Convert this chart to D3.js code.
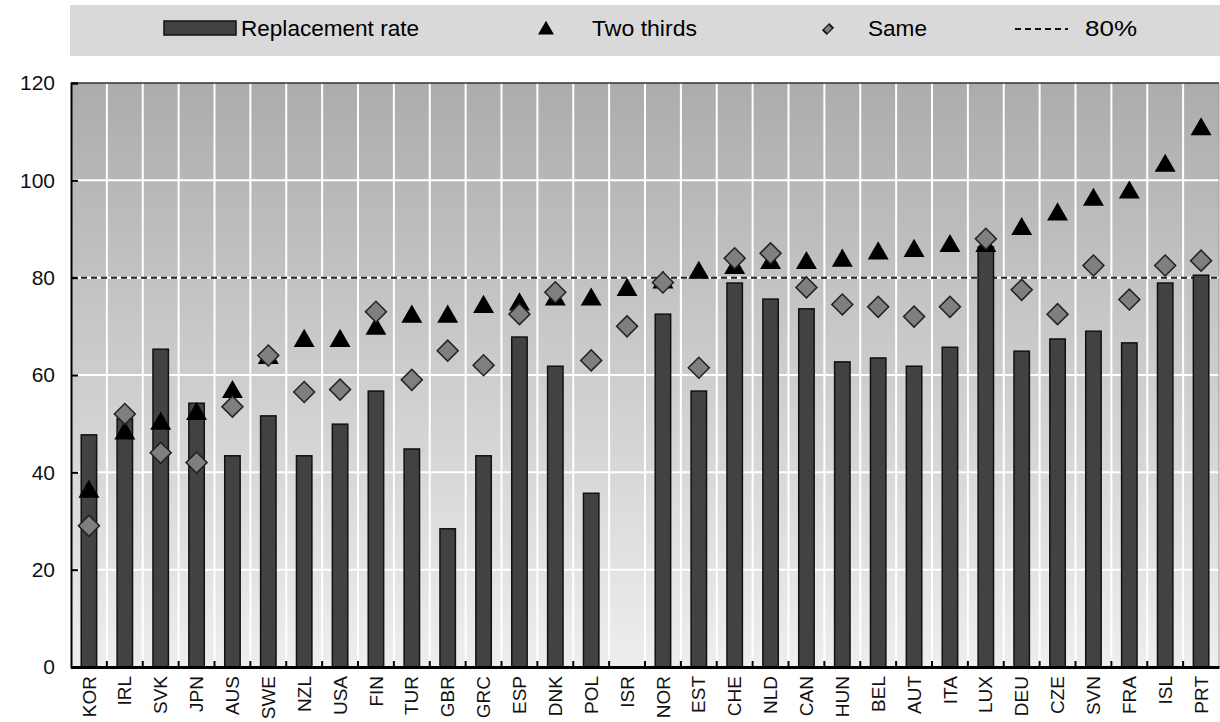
<!DOCTYPE html>
<html>
<head>
<meta charset="utf-8">
<script src="https://cdn.jsdelivr.net/npm/d3@7"></script>
<style>
  body { margin: 0; background: #fff; }
  text { font-family: "Liberation Sans", "DejaVu Sans", sans-serif; }
</style>
</head>
<body>
<script>
// data
var countries = ["KOR","IRL","SVK","JPN","AUS","SWE","NZL","USA","FIN","TUR","GBR","GRC","ESP","DNK","POL","ISR",
                 "NOR","EST","CHE","NLD","CAN","HUN","BEL","AUT","ITA","LUX","DEU","CZE","SVN","FRA","ISL","PRT"];
var replacementRate = [47.7,51,65.3,54.2,43.4,51.6,43.4,49.9,56.7,44.8,28.4,43.4,67.8,61.8,35.7,null,
                       72.5,56.7,78.9,75.6,73.6,62.7,63.5,61.8,65.7,86.3,64.9,67.4,69.0,66.6,78.9,80.5];
var twoThirds = [36,48,50,52,56.5,63.5,67,67,69.5,72,72,74,74.5,75.5,75.5,77.5,
                 79,81,82,83,83,83.5,85,85.5,86.5,86.5,90,93,96,97.5,103,110.5];
var same = [29,52,44,42,53.5,64,56.5,57,73,59,65,62,72.5,77,63,70,
            79,61.5,84,85,78,74.5,74,72,74,88,77.5,72.5,82.5,75.5,82.5,83.5];
var yTicks = [0,20,40,60,80,100,120];
var refLine = 80;

var W = 1220, H = 722;
var margin = {top: 83, right: 1, bottom: 55, left: 71};
var width = W - margin.left - margin.right,
    height = H - margin.top - margin.bottom;

var svg = d3.select("body").append("svg")
    .attr("width", W)
    .attr("height", H);

// background gradient
var defs = svg.append("defs");
var grad = defs.append("linearGradient")
    .attr("id", "bg")
    .attr("x1", 0).attr("y1", 0).attr("x2", 0).attr("y2", 1);
grad.append("stop").attr("offset", "0%").attr("stop-color", "#acacac");
grad.append("stop").attr("offset", "100%").attr("stop-color", "#eeeeee");

// legend box
svg.append("rect")
    .attr("x", 70).attr("y", 5)
    .attr("width", 1150).attr("height", 51)
    .attr("fill", "#d9d9d9");

var g = svg.append("g")
    .attr("transform", "translate(" + margin.left + "," + margin.top + ")");

var x = d3.scaleBand()
    .domain(countries)
    .range([0, width])
    .paddingInner(0).paddingOuter(0);

var y = d3.scaleLinear()
    .domain([0, 120])
    .range([height, 0]);

g.append("rect")
    .attr("width", width).attr("height", height)
    .attr("fill", "url(#bg)");

// horizontal grid
g.selectAll(".hgrid")
    .data(yTicks.filter(function(d) { return d > 0 && d < 120; }))
  .enter().append("line")
    .attr("x1", 0).attr("x2", width)
    .attr("y1", function(d) { return y(d); })
    .attr("y2", function(d) { return y(d); })
    .attr("stroke", "#fff").attr("stroke-width", 2);

// vertical grid at band boundaries
g.selectAll(".vgrid")
    .data(countries.slice(1))
  .enter().append("line")
    .attr("x1", function(d) { return x(d); })
    .attr("x2", function(d) { return x(d); })
    .attr("y1", 0).attr("y2", height)
    .attr("stroke", "#fff").attr("stroke-width", 2);

// 80% line
g.append("line")
    .attr("x1", 0).attr("x2", width)
    .attr("y1", y(refLine)).attr("y2", y(refLine))
    .attr("stroke", "#222").attr("stroke-width", 2)
    .attr("stroke-dasharray", "6,4");

// bars
var barW = x.bandwidth() * 0.43;
g.selectAll(".bar")
    .data(countries.map(function(c, i) { return {c: c, v: replacementRate[i]}; })
      .filter(function(d) { return d.v != null; }))
  .enter().append("rect")
    .attr("x", function(d) { return x(d.c) + (x.bandwidth() - barW) / 2; })
    .attr("y", function(d) { return y(d.v); })
    .attr("width", barW)
    .attr("height", function(d) { return height - y(d.v); })
    .attr("fill", "#424242")
    .attr("stroke", "#111").attr("stroke-width", 1.5);

// triangles
var tri = d3.symbol().type(d3.symbolTriangle).size(190);
g.selectAll(".tri")
    .data(countries.map(function(c, i) { return {c: c, v: twoThirds[i]}; }))
  .enter().append("path")
    .attr("d", tri)
    .attr("transform", function(d) {
      return "translate(" + (x(d.c) + x.bandwidth() / 2) + "," + y(d.v) + ")";
    })
    .attr("fill", "#000");

// diamonds
var dia = d3.symbol().type(d3.symbolSquare).size(220);
g.selectAll(".dia")
    .data(countries.map(function(c, i) { return {c: c, v: same[i]}; }))
  .enter().append("path")
    .attr("d", dia)
    .attr("transform", function(d) {
      return "translate(" + (x(d.c) + x.bandwidth() / 2) + "," + y(d.v) + ") rotate(45)";
    })
    .attr("fill", "#7f7f7f")
    .attr("stroke", "#222").attr("stroke-width", 1.5);

// frame
g.append("line").attr("x1", 0).attr("x2", width).attr("y1", 0).attr("y2", 0)
    .attr("stroke", "#333").attr("stroke-width", 1.5);
g.append("line").attr("x1", width).attr("x2", width).attr("y1", 0).attr("y2", height)
    .attr("stroke", "#999").attr("stroke-width", 1);

// y axis
var yAxis = g.append("g")
    .call(d3.axisLeft(y).tickValues(yTicks).tickSize(-7).tickPadding(16));
yAxis.select(".domain").attr("stroke", "#000").attr("stroke-width", 2);
yAxis.selectAll(".tick line").attr("stroke", "#000").attr("stroke-width", 2);
yAxis.selectAll(".tick text")
    .attr("font-size", 21).attr("fill", "#111")
    .attr("font-family", "Liberation Sans, sans-serif");

// x axis
var xAxis = g.append("g")
    .attr("transform", "translate(0," + height + ")")
    .call(d3.axisBottom(x).tickSize(0).tickPadding(0));
xAxis.select(".domain").attr("stroke", "#000").attr("stroke-width", 3);
xAxis.selectAll(".tick text")
    .attr("transform", "rotate(-90)")
    .attr("text-anchor", "end")
    .attr("x", -9).attr("y", 0).attr("dy", "0.35em")
    .attr("font-size", 19).attr("fill", "#111")
    .attr("font-family", "Liberation Sans, sans-serif");

// small ticks at band boundaries
g.selectAll(".xtick")
    .data(countries.slice(1))
  .enter().append("line")
    .attr("x1", function(d) { return x(d); })
    .attr("x2", function(d) { return x(d); })
    .attr("y1", height).attr("y2", height - 6)
    .attr("stroke", "#000").attr("stroke-width", 2);

// legend
var leg = svg.append("g");
leg.append("rect")
    .attr("x", 164).attr("y", 21).attr("width", 72).attr("height", 14)
    .attr("fill", "#424242").attr("stroke", "#111").attr("stroke-width", 1.5);
leg.append("text").attr("x", 241).attr("y", 36).attr("font-size", 22)
    .attr("textLength", 178).attr("lengthAdjust", "spacingAndGlyphs").text("Replacement rate");
leg.append("path")
    .attr("d", d3.symbol().type(d3.symbolTriangle).size(110))
    .attr("transform", "translate(546,30)");
leg.append("text").attr("x", 592).attr("y", 36).attr("font-size", 22)
    .attr("textLength", 105).attr("lengthAdjust", "spacingAndGlyphs").text("Two thirds");
leg.append("path")
    .attr("d", d3.symbol().type(d3.symbolSquare).size(50))
    .attr("transform", "translate(828,29) rotate(45) scale(0.8,1.2)")
    .attr("fill", "#7f7f7f").attr("stroke", "#111").attr("stroke-width", 1.5);
leg.append("text").attr("x", 868).attr("y", 36).attr("font-size", 22)
    .attr("textLength", 59).attr("lengthAdjust", "spacingAndGlyphs").text("Same");
leg.append("line")
    .attr("x1", 1015).attr("x2", 1068).attr("y1", 29).attr("y2", 29)
    .attr("stroke", "#111").attr("stroke-width", 2).attr("stroke-dasharray", "6,4");
leg.append("text").attr("x", 1085).attr("y", 36).attr("font-size", 22)
    .attr("textLength", 52).attr("lengthAdjust", "spacingAndGlyphs").text("80%");
</script>
</body>
</html>
